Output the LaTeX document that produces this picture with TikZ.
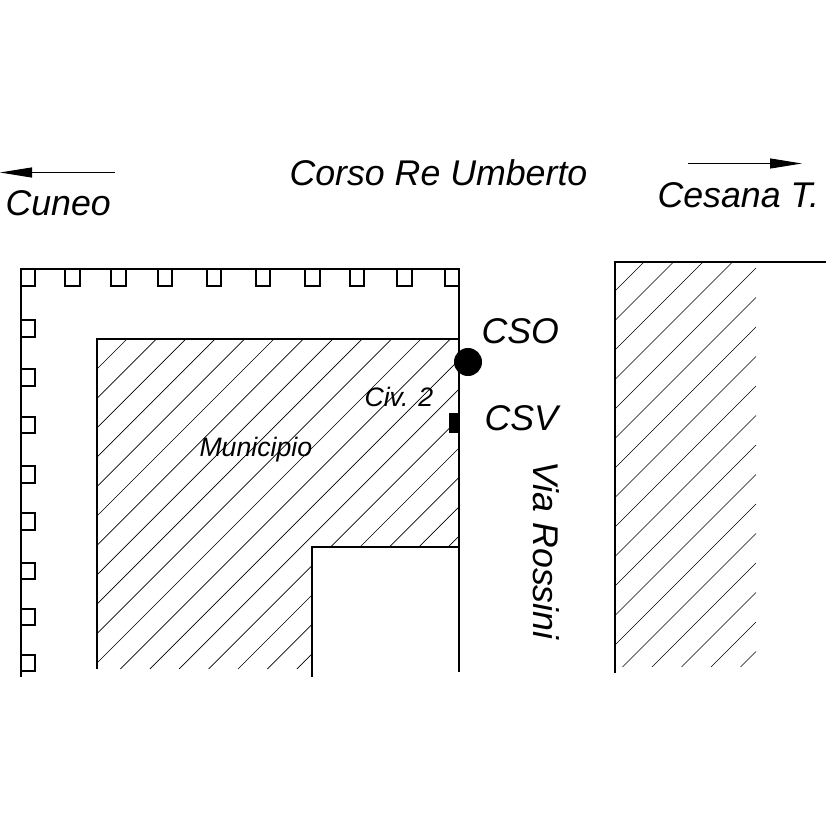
\documentclass[tikz,border=0pt]{standalone}
\usepackage{fontspec}
\setmainfont{Liberation Sans}
\usetikzlibrary{arrows.meta}

\tikzset{every picture/.style={line width=0.75pt}}
\tikzset{wall/.style={line width=1.5pt},
  hatch/.style={line width=0.5pt},
  biglabel/.style={anchor=base west,inner sep=0pt,font=\itshape\fontsize{26.8}{30}\selectfont},
  smalllabel/.style={anchor=base west,inner sep=0pt,font=\itshape\fontsize{20}{24}\selectfont},
  streetarrow/.style={-{Triangle[length=24pt,width=7.5pt]}}}

\begin{document}
\begin{tikzpicture}[x=0.75pt,y=0.75pt,yscale=-1,xscale=1]
\useasboundingbox (0,0) rectangle (827,827);

%Hatching of the left block
\draw [hatch] (127,339) -- (97,369) ;
\draw [hatch] (156.4,339) -- (97,398.4) ;
\draw [hatch] (185.8,339) -- (97,427.8) ;
\draw [hatch] (215.2,339) -- (97,457.2) ;
\draw [hatch] (244.6,339) -- (97,486.6) ;
\draw [hatch] (274,339) -- (97,516) ;
\draw [hatch] (303.4,339) -- (97,545.4) ;
\draw [hatch] (332.8,339) -- (97,574.8) ;
\draw [hatch] (362.2,339) -- (97,604.2) ;
\draw [hatch] (391.6,339) -- (97,633.6) ;
\draw [hatch] (421,339) -- (97,663) ;
\draw [hatch] (450.4,339) -- (120.4,669) ;
\draw [hatch] (459,359.8) -- (149.8,669) ;
\draw [hatch] (459,389.2) -- (179.2,669) ;
\draw [hatch] (459,418.6) -- (330.6,547) ;
\draw [hatch] (312,565.6) -- (208.6,669) ;
\draw [hatch] (459,448) -- (360,547) ;
\draw [hatch] (312,595) -- (238,669) ;
\draw [hatch] (459,477.4) -- (389.4,547) ;
\draw [hatch] (312,624.4) -- (267.4,669) ;
\draw [hatch] (459,506.8) -- (418.8,547) ;
\draw [hatch] (312,653.8) -- (296.8,669) ;
\draw [hatch] (459,536.2) -- (448.2,547) ;

%Hatching of the right block
\draw [hatch] (644,262) -- (615,291) ;
\draw [hatch] (673.5,262) -- (615,320.5) ;
\draw [hatch] (703,262) -- (615,350) ;
\draw [hatch] (732.5,262) -- (615,379.5) ;
\draw [hatch] (756,268) -- (615,409) ;
\draw [hatch] (756,297.5) -- (615,438.5) ;
\draw [hatch] (756,327) -- (615,468) ;
\draw [hatch] (756,356.5) -- (615,497.5) ;
\draw [hatch] (756,386) -- (615,527) ;
\draw [hatch] (756,415.5) -- (615,556.5) ;
\draw [hatch] (756,445) -- (615,586) ;
\draw [hatch] (756,474.5) -- (615,615.5) ;
\draw [hatch] (756,504) -- (615,645) ;
\draw [hatch] (756,533.5) -- (622.5,667) ;
\draw [hatch] (756,563) -- (652,667) ;
\draw [hatch] (756,592.5) -- (681.5,667) ;
\draw [hatch] (756,622) -- (711,667) ;
\draw [hatch] (756,651.5) -- (740.5,667) ;

%Outer wall
\draw [wall] (21,677) -- (21,269) -- (459,269) -- (459,672) ;
%Inner block
\draw [wall] (97,669) -- (97,339) -- (459,339) ;
%Courtyard
\draw [wall] (312,677) -- (312,547) -- (459,547) ;
%Right block
\draw [wall] (615,673) -- (615,262) -- (826,262) ;

%Squares along the top
\draw [wall] (21,286) -- (35,286) -- (35,269) ;
\draw [wall] (65,269) -- (65,286) -- (80,286) -- (80,269) ;
\draw [wall] (111,269) -- (111,286) -- (126,286) -- (126,269) ;
\draw [wall] (158,269) -- (158,286) -- (172,286) -- (172,269) ;
\draw [wall] (207,269) -- (207,286) -- (221,286) -- (221,269) ;
\draw [wall] (256,269) -- (256,286) -- (270,286) -- (270,269) ;
\draw [wall] (305,269) -- (305,286) -- (320,286) -- (320,269) ;
\draw [wall] (350,269) -- (350,286) -- (364,286) -- (364,269) ;
\draw [wall] (397,269) -- (397,286) -- (412,286) -- (412,269) ;
\draw [wall] (445,269) -- (445,286) -- (459,286) ;
%Squares along the left
\draw [wall] (21,320) -- (35,320) -- (35,337) -- (21,337) ;
\draw [wall] (21,369) -- (35,369) -- (35,386) -- (21,386) ;
\draw [wall] (21,417) -- (35,417) -- (35,433) -- (21,433) ;
\draw [wall] (21,466) -- (35,466) -- (35,483) -- (21,483) ;
\draw [wall] (21,513) -- (35,513) -- (35,530) -- (21,530) ;
\draw [wall] (21,563) -- (35,563) -- (35,579) -- (21,579) ;
\draw [wall] (21,609) -- (35,609) -- (35,625) -- (21,625) ;
\draw [wall] (21,655) -- (35,655) -- (35,671) -- (21,671) ;

%Shape: Circle
\draw [fill=black] (468,362) circle [radius=13.5] ;
%Shape: Rectangle
\draw [fill=black] (449.5,413.5) rectangle (459,432.5) ;

%Street arrows
\coordinate (cuneostart) at (115,172.5) ;
\coordinate (cuneotip) at (0,172.5) ;
\coordinate (cesanastart) at (688,163.5) ;
\coordinate (cesanatip) at (802,163.5) ;
\draw [streetarrow] (cuneostart) -- (cuneotip) ;
\draw [streetarrow] (cesanastart) -- (cesanatip) ;

% Text Node
\draw (289,185.5) node (corso) [biglabel] {Corso Re Umberto};
% Text Node
\draw (5,216) node (cuneo) [biglabel] {Cuneo};
% Text Node
\draw (657,208) node (cesana) [biglabel] {Cesana T.};
% Text Node
\draw (481,343) node (cso) [biglabel] {CSO};
% Text Node
\draw (484,430) node (csv) [biglabel] {CSV};
% Text Node
\draw (533,461) node (rossini) [biglabel,rotate=-90] {Via Rossini};
% Text Node
\draw (364,406) node (civico) [smalllabel] {Civ. 2};
% Text Node
\draw (199,456) node (municipio) [smalllabel] {Municipio};

\end{tikzpicture}
\end{document}
